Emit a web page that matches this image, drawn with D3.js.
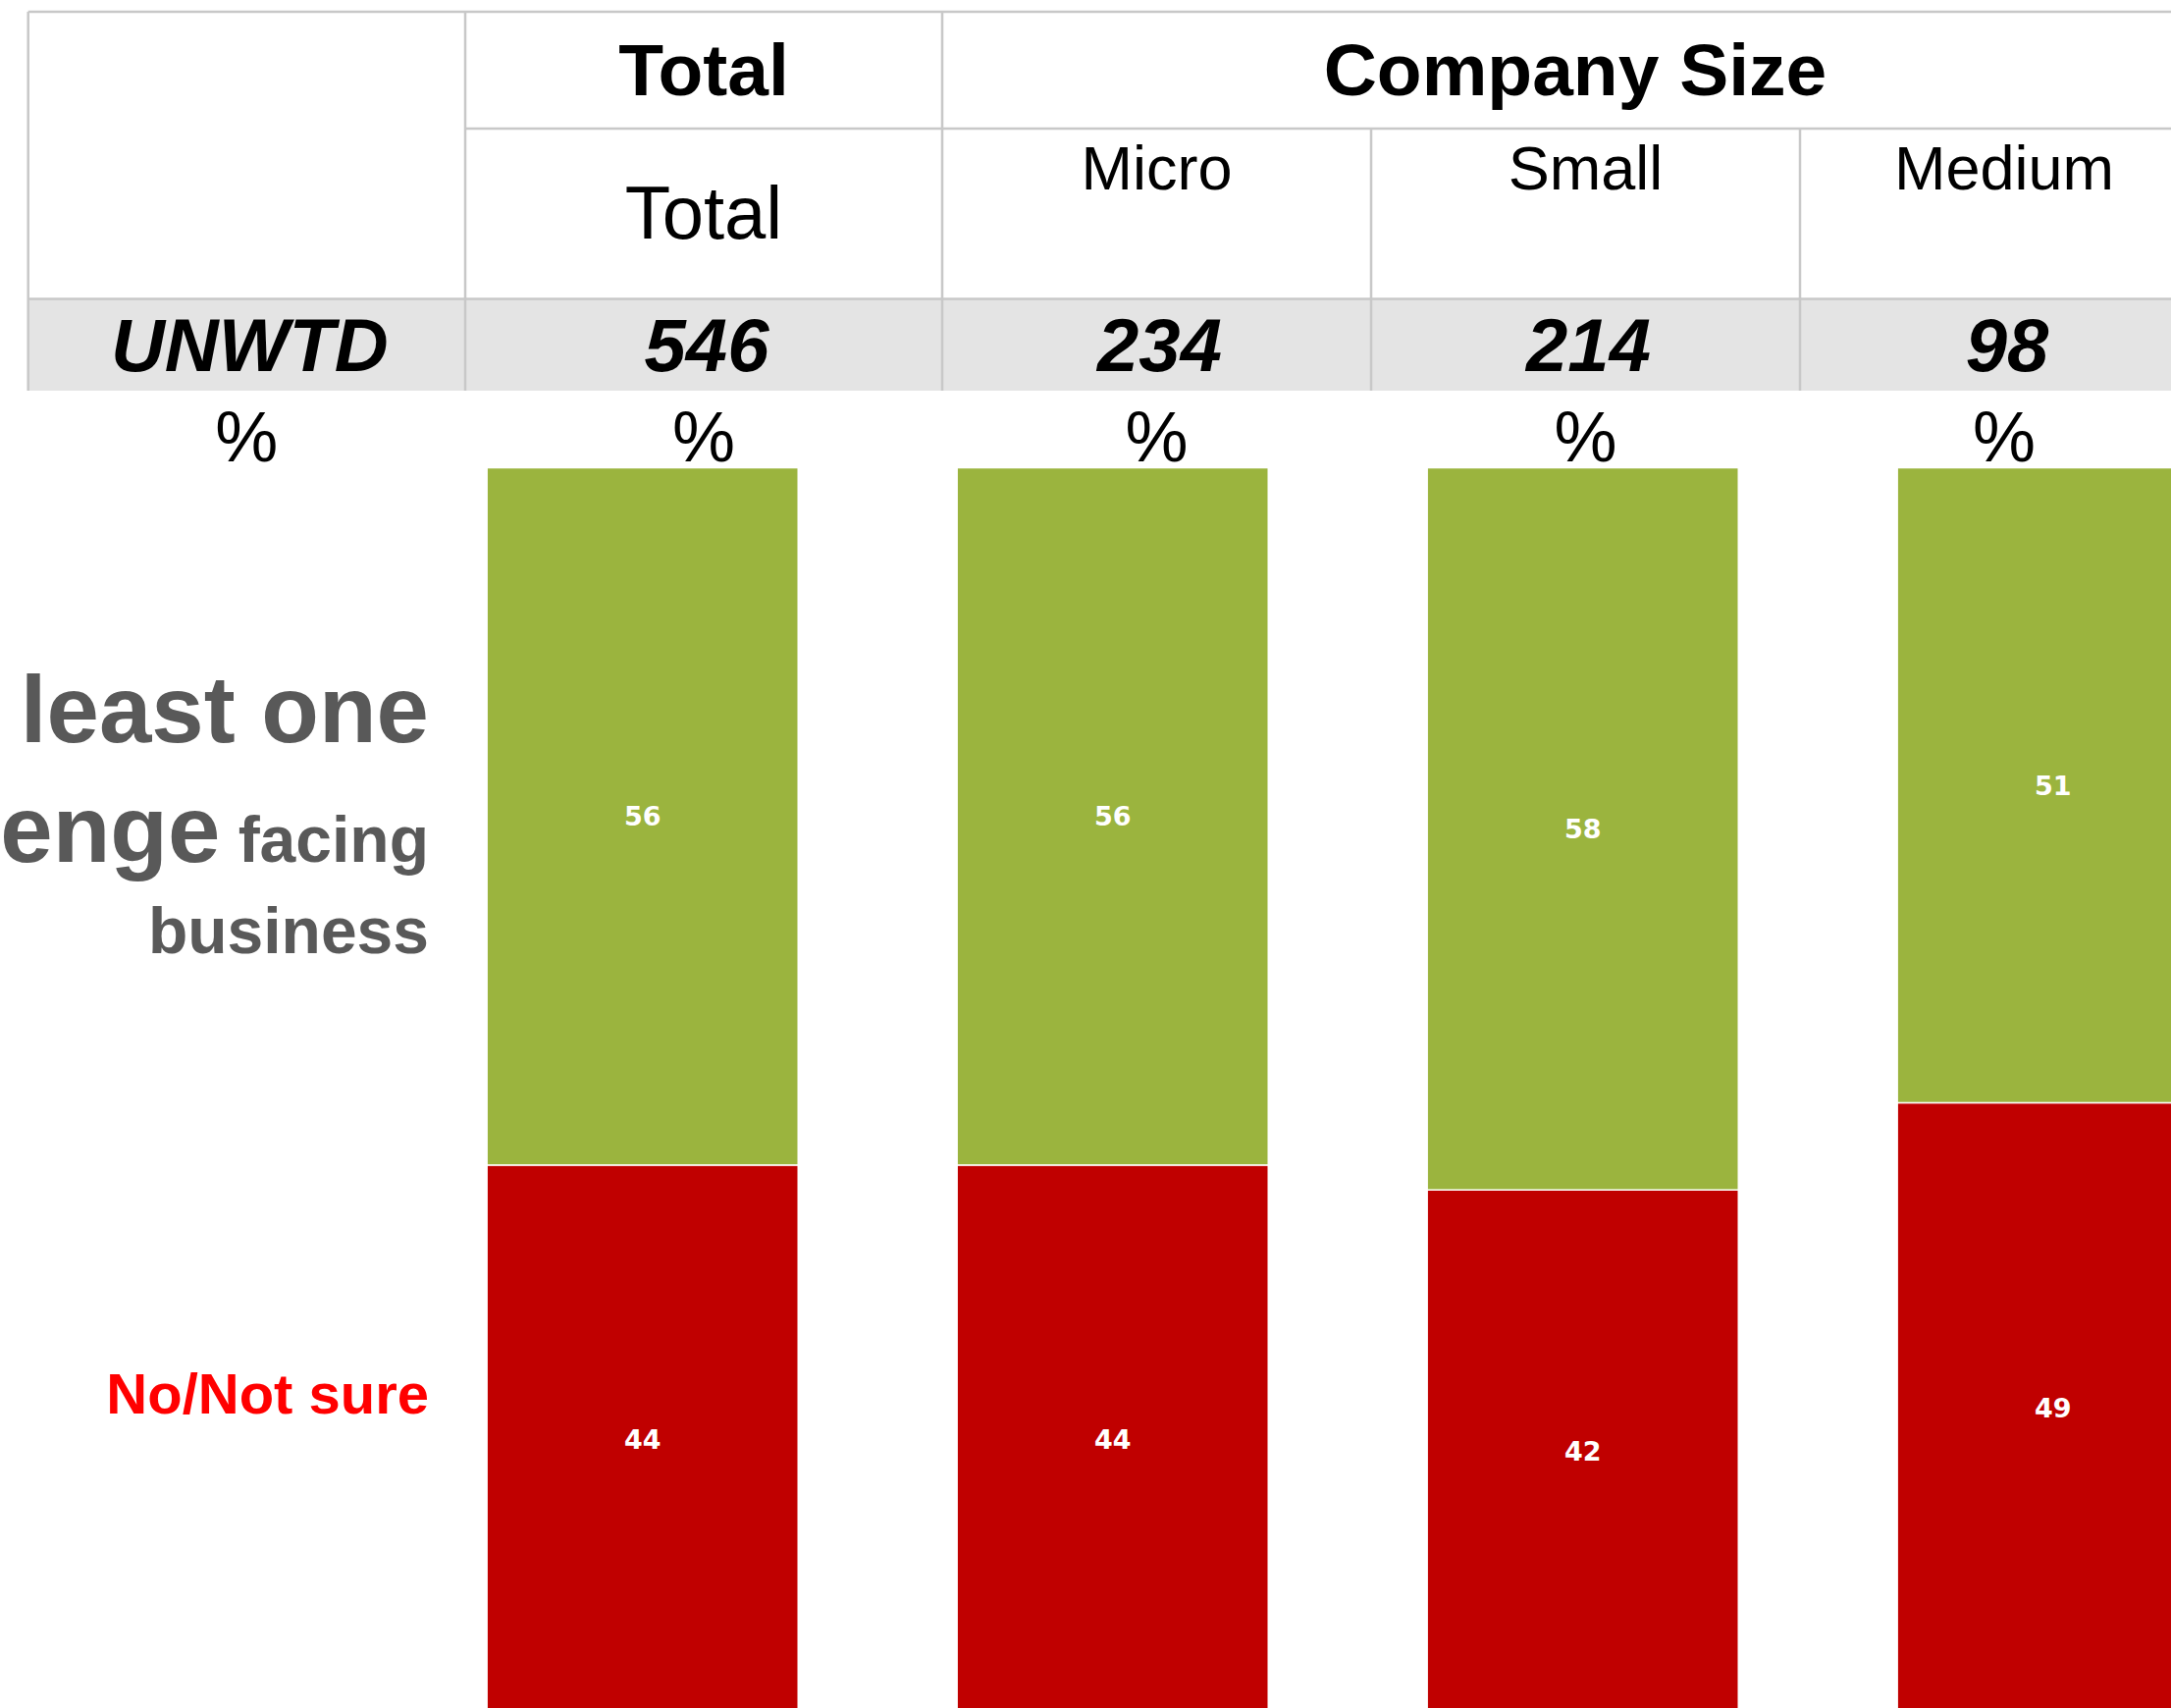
<!DOCTYPE html>
<html>
<head>
<meta charset="utf-8">
<script src="https://cdn.jsdelivr.net/npm/d3@7"></script>
<style>
  html, body { margin: 0; padding: 0; background: #fff; overflow: hidden; }
  svg { display: block; }
</style>
</head>
<body>
<svg id="chart" width="2212" height="1740"></svg>
<script>
// ---- data ----
const categories = ["Total", "Micro", "Small", "Medium"];
const atLeastOne = [56, 56, 58, 51];
const notSure = [44, 44, 42, 49];
const seriesKeys = ["notSure", "atLeastOne"];
const seriesNames = { atLeastOne: ["At least one", "challenge", "facing", "business"], notSure: "No/Not sure" };

const groupHeaders = ["Total", "Company Size"];
const subHeaders = ["Total", "Micro", "Small", "Medium"];
const baseLabel = "UNWTD";
const unweighted = [546, 234, 214, 98];
const unitLabel = "%";

// ---- layout ----
const W = 2212, H = 1740;
const colEdges = [28.7, 474, 960, 1397, 1834, 2250];
const rowTop = 12, rowSplit = 131, rowBase = 304.5, rowBottom = 398;
const gridColor = "#c8c8c8";
const green = "#9bb43e", red = "#c00000", labelGrey = "#595959";
const sans = "'Liberation Sans', Arial, sans-serif";

const svg = d3.select("#chart");

// ---- header table ----
const table = svg.append("g");
const colCenter = i => (colEdges[i] + colEdges[i + 1]) / 2;

// shaded base-size row
table.append("rect")
  .attr("x", colEdges[0]).attr("y", rowBase)
  .attr("width", W - colEdges[0]).attr("height", rowBottom - rowBase)
  .attr("fill", "#e4e4e4");

const gridLines = [
  [colEdges[0], rowTop, W, rowTop],
  [colEdges[1], rowSplit, W, rowSplit],
  [colEdges[0], rowBase, W, rowBase],
  [colEdges[0], rowTop, colEdges[0], rowBottom],
  [colEdges[1], rowTop, colEdges[1], rowBottom],
  [colEdges[2], rowTop, colEdges[2], rowBottom],
  [colEdges[3], rowSplit, colEdges[3], rowBottom],
  [colEdges[4], rowSplit, colEdges[4], rowBottom]
];
table.selectAll("line.grid").data(gridLines).join("line")
  .attr("class", "grid")
  .attr("x1", d => d[0]).attr("y1", d => d[1])
  .attr("x2", d => d[2]).attr("y2", d => d[3])
  .attr("stroke", gridColor).attr("stroke-width", 2.5);

// group headers: Total spans one column, Company Size spans the rest
const groupX = [colCenter(1), (colEdges[2] + colEdges[5]) / 2];
table.selectAll("text.group").data(groupHeaders).join("text")
  .attr("class", "group")
  .attr("x", (d, i) => groupX[i]).attr("y", 97)
  .attr("text-anchor", "middle")
  .attr("font-family", sans).attr("font-weight", "bold").attr("font-size", 75)
  .attr("fill", "#000").text(d => d);

// sub headers
table.selectAll("text.sub").data(subHeaders).join("text")
  .attr("class", "sub")
  .attr("x", (d, i) => colCenter(i + 1))
  .attr("y", (d, i) => i === 0 ? 243 : 193)
  .attr("text-anchor", "middle")
  .attr("font-family", sans).attr("font-size", (d, i) => i === 0 ? 76 : 63)
  .attr("fill", "#000").text(d => d);

// base sizes
table.selectAll("text.base").data([baseLabel, ...unweighted]).join("text")
  .attr("class", "base")
  .attr("x", (d, i) => colCenter(i) + 3).attr("y", 378)
  .attr("text-anchor", "middle")
  .attr("font-family", sans).attr("font-weight", "bold").attr("font-style", "italic")
  .attr("font-size", 76).attr("fill", "#000").text(d => d);

// unit row
table.selectAll("text.unit").data(d3.range(colEdges.length - 1)).join("text")
  .attr("class", "unit")
  .attr("x", i => colCenter(i)).attr("y", 470)
  .attr("text-anchor", "middle")
  .attr("font-family", sans).attr("font-size", 72)
  .attr("fill", "#000").text(unitLabel);

// ---- stacked bars ----
const rows = categories.map((c, i) => ({ category: c, atLeastOne: atLeastOne[i], notSure: notSure[i] }));
const stacked = d3.stack().keys(seriesKeys)(rows);

const x = d3.scaleBand()
  .domain(categories)
  .range([415.2, 415.2 + 479 * categories.length])
  .paddingInner(0.338)
  .paddingOuter(0.169);

const y = d3.scaleLinear().domain([0, 100]).range([1745, 476.5]);
const color = d3.scaleOrdinal().domain(seriesKeys).range([red, green]);

const layers = svg.append("g").selectAll("g.layer").data(stacked).join("g")
  .attr("class", "layer")
  .attr("fill", d => color(d.key));

layers.selectAll("rect").data(d => d).join("rect")
  .attr("x", d => x(d.data.category))
  .attr("y", d => y(d[1]))
  .attr("width", x.bandwidth())
  .attr("height", d => y(d[0]) - y(d[1]))
  .attr("stroke", "#fff").attr("stroke-width", 1.5);

layers.selectAll("text").data(d => d).join("text")
  .attr("x", d => x(d.data.category) + x.bandwidth() / 2)
  .attr("y", d => (y(d[0]) + y(d[1])) / 2)
  .attr("dy", "0.36em")
  .attr("text-anchor", "middle")
  .attr("font-family", "'DejaVu Sans', Verdana, sans-serif")
  .attr("font-weight", "bold").attr("font-size", 27)
  .attr("fill", "#fff")
  .text(d => d[1] - d[0]);

// ---- series labels on the left ----
const labelX = 437;
const yesLabel = svg.append("g")
  .attr("font-family", sans).attr("font-weight", "bold").attr("fill", labelGrey)
  .attr("text-anchor", "end");
const yesName = seriesNames.atLeastOne;
yesLabel.append("text").attr("x", labelX).attr("y", 756).attr("font-size", 96).text(yesName[0]);
const l2 = yesLabel.append("text").attr("x", labelX).attr("y", 878);
l2.append("tspan").attr("font-size", 96).text(yesName[1]);
l2.append("tspan").attr("font-size", 66).text(" " + yesName[2]);
yesLabel.append("text").attr("x", labelX).attr("y", 971).attr("font-size", 66).text(yesName[3]);

svg.append("text")
  .attr("x", 437).attr("y", 1440)
  .attr("text-anchor", "end")
  .attr("font-family", sans).attr("font-weight", "bold").attr("font-size", 58)
  .attr("fill", "#ff0000")
  .text(seriesNames.notSure);
</script>
</body>
</html>
